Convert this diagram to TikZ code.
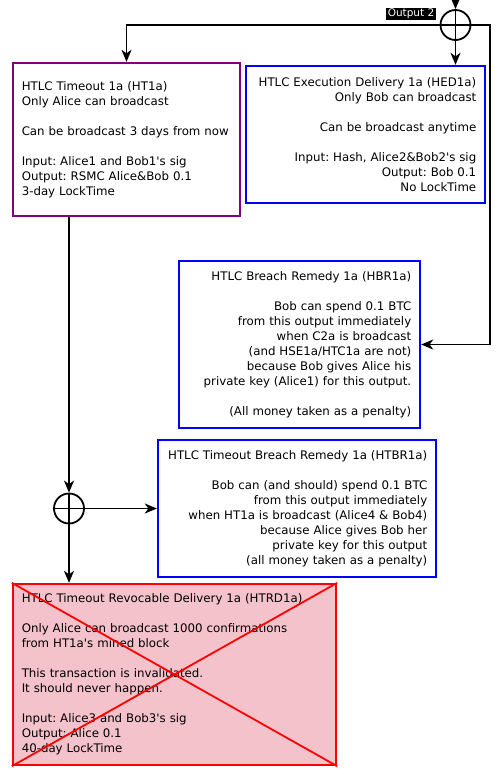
\documentclass[tikz,border=0pt]{standalone}
\usepackage{fontspec}
\setmainfont{DejaVu Sans}
\usetikzlibrary{arrows.meta}
\definecolor{TxPurple}{HTML}{800080}
\definecolor{TxBlue}{HTML}{0000FF}
\definecolor{TxRed}{HTML}{FF0000}
\definecolor{TxPink}{HTML}{F4C2CB}
\newcommand{\sq}{\textquotesingle}
\frenchspacing
\tikzset{
  txbox/.style={
    draw=#1,
    line width=1.8pt,
    inner xsep=9pt,
    inner ysep=0pt,
    font=\fontsize{11.8}{15}\selectfont
  },
  xorgate/.style={
    circle,
    draw,
    line width=1.8pt,
    minimum size=30pt,
    inner sep=0pt,
    path picture={
      \draw[line width=1.8pt]
        (path picture bounding box.north) -- (path picture bounding box.south)
        (path picture bounding box.west) -- (path picture bounding box.east);
    }
  },
  flow/.style={
    draw,
    line width=1.8pt,
    -{Stealth[length=12pt,width=10pt,inset=3.5pt]}
  }
}

\begin{document}
\begin{tikzpicture}[x=1pt,y=-1pt]
  \useasboundingbox (0,0) rectangle (500,777);

  \node[txbox=TxPurple, text width=209.5pt, minimum height=153.5pt, align=left]
    (ht) at (126.5,139.5)
    {HTLC Timeout 1a (HT1a)\\
     Only Alice can broadcast\\[15pt]
     Can be broadcast 3 days from now\\[15pt]
     Input: Alice1 and Bob1\sq s sig\\
     Output: RSMC Alice\&Bob 0.1\\
     3-day LockTime};

  \node[txbox=TxBlue, text width=221.5pt, minimum height=137.5pt, align=right]
    (hed) at (365.5,134.5)
    {HTLC Execution Delivery 1a (HED1a)\\
     Only Bob can broadcast\\[15pt]
     Can be broadcast anytime\\[15pt]
     Input: Hash, Alice2\&Bob2\sq s sig\\
     Output: Bob 0.1\\
     No LockTime};

  \node[txbox=TxBlue, text width=223.5pt, minimum height=167.5pt, align=right]
    (hbr) at (299.5,344.5)
    {HTLC Breach Remedy 1a (HBR1a)\\[15pt]
     Bob can spend 0.1 BTC\\
     from this output immediately\\
     when C2a is broadcast\\
     (and HSE1a/HTC1a are not)\\
     because Bob gives Alice his\\
     private key (Alice1) for this output.\\[15pt]
     (All money taken as a penalty)};

  \node[txbox=TxBlue, text width=260.5pt, minimum height=137.5pt, align=right]
    (htbr) at (297,508.5)
    {HTLC Timeout Breach Remedy 1a (HTBR1a)\\[15pt]
     Bob can (and should) spend 0.1 BTC\\
     from this output immediately\\
     when HT1a is broadcast (Alice4 \& Bob4)\\
     because Alice gives Bob her\\
     private key for this output\\
     (all money taken as a penalty)};

  \node[txbox=TxRed, fill=TxPink, text width=305.5pt, minimum height=181.5pt, align=left]
    (htrd) at (174.5,674.5)
    {HTLC Timeout Revocable Delivery 1a (HTRD1a)\\[15pt]
     Only Alice can broadcast 1000 confirmations\\
     from HT1a\sq s mined block\\[15pt]
     This transaction is invalidated.\\
     It should never happen.\\[15pt]
     Input: Alice3 and Bob3\sq s sig\\
     Output: Alice 0.1\\
     40-day LockTime};
  \draw[TxRed, line width=1.8pt]
    (htrd.north west) -- (htrd.south east)
    (htrd.north east) -- (htrd.south west);

  \node[xorgate] (xtop) at (455.5,25) {};
  \node[xorgate] (xlow) at (69,508.5) {};
  \node[fill=black, text=white, inner sep=1.5pt, font=\fontsize{10.5}{12}\selectfont]
    (outlbl) at (411,14) {Output 2};

  \coordinate (src) at (455.5,-3);
  \coordinate (tleft) at (126.5,25);
  \coordinate (tright) at (490,25);

  \draw[flow] (src) -- (xtop.north);
  \draw[flow] (xtop.south) -- (xtop.south |- hed.north);
  \draw[flow] (xtop.west) -- (tleft) -- (ht.north);
  \draw[flow] (xtop.east) -- (tright) |- (hbr.east);
  \draw[flow] (xlow.north |- ht.south) -- (xlow.north);
  \draw[flow] (xlow.east) -- (htbr.west);
  \draw[flow] (xlow.south) -- (xlow.south |- htrd.north);
\end{tikzpicture}
\end{document}
